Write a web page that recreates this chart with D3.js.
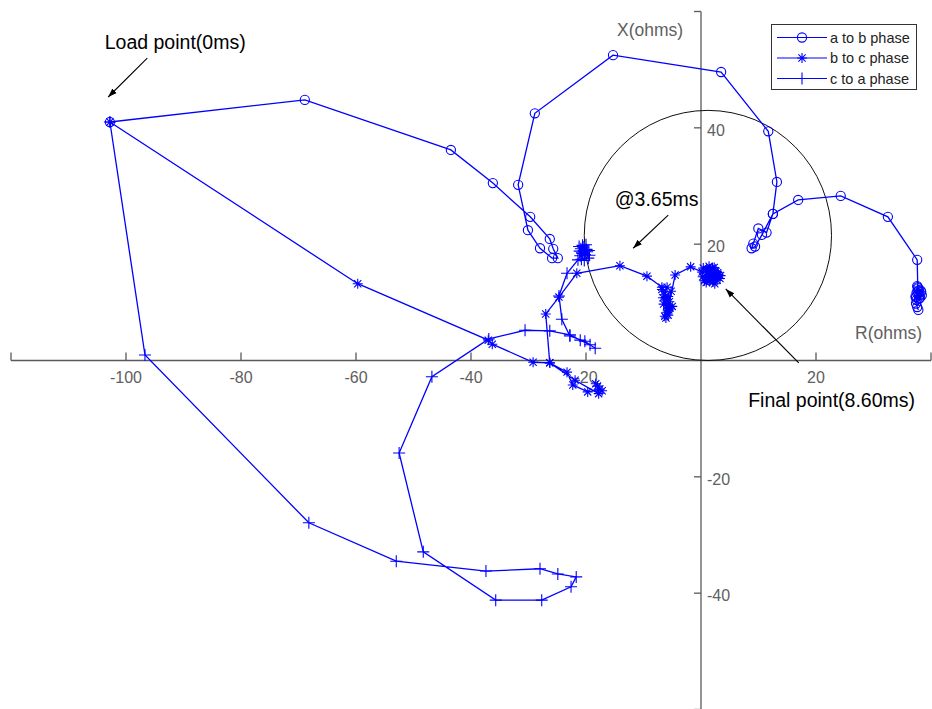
<!DOCTYPE html>
<html>
<head>
<meta charset="utf-8">
<script src="https://cdn.jsdelivr.net/npm/d3@7"></script>
<style>
  html, body { margin: 0; padding: 0; background: #fff; }
  svg { display: block; font-family: "Liberation Sans", Arial, sans-serif; }
</style>
</head>
<body>
<svg id="chart" width="932" height="709"></svg>
<script>
// Apparent impedance trajectories (R, X in ohms) seen by the distance relay
const seriesNames = ["a to b phase", "b to c phase", "c to a phase"];

const abR = [-102.8, -68.9, -43.5, -36.2, -29.7, -26.3, -25.7, -24.9, -25.9, -28.0, -30.1, -31.8, -28.9, -15.3, 3.5, 11.7, 13.2, 12.5, 11.4, 9.97, 9.1, 8.8, 9.4, 10.6, 12.5, 16.9, 24.3, 32.5, 37.6,
  37.7, 37.9, 37.5, 38.0, 37.7, 37.8, 38.3, 37.3, 38.1, 37.6, 38.4, 37.9, 37.4, 38.2, 37.8, 37.5, 37.4, 37.6, 37.8];
const abX = [41.0, 44.8, 36.2, 30.5, 24.7, 20.9, 19.2, 17.6, 17.6, 19.3, 22.4, 30.2, 42.5, 52.5, 49.6, 39.4, 30.7, 25.2, 22.0, 22.7, 20.1, 19.3, 19.6, 21.6, 25.2, 27.6, 28.3, 24.7, 17.3,
  12.6, 12.1, 11.7, 11.3, 11.9, 12.4, 11.8, 11.0, 10.8, 12.8, 11.2, 10.6, 10.9, 12.0, 11.5, 10.4, 9.8, 9.2, 8.7];

const bcR = [-102.8, -59.7, -37.0, -36.3, -29.2, -26.3, -23.3, -22.3, -19.7, -17.6, -18.3, -17.2, -18.0, -17.8, -21.9, -26.3, -27.0, -24.7, -21.6, -14.1, -9.4, -6.8, -5.9, -6.4, -6.1, -5.9, -5.6, -5.7, -6.1, -5.4, -6.6, -5.2, -6.0, -5.5, -6.8, -5.0, -6.3, -5.7, -6.5, -5.8, -4.5, -1.8,
  0.2, 1.0, 1.8, 2.5, 1.2, 2.0, 3.0, 1.5, 2.4, 0.8, 2.8, 1.9, 0.4, 1.4, 2.2, 3.3, 0.9, 1.7, 2.6, 0.3, 1.1, 2.9, 2.1, 1.6, 0.6, 3.4, 1.3, 2.3];
const bcX = [41.0, 13.2, 3.5, 2.8, -0.3, -0.4, -2.0, -4.2, -5.4, -4.9, -4.0, -5.2, -4.4, -5.7, -3.4, -0.4, 8.0, 10.9, 15.0, 16.3, 14.5, 12.6, 12.6, 11.3, 10.4, 9.5, 8.7, 7.8, 7.3, 9.0, 10.8, 11.9, 8.2, 10.1, 12.2, 9.3, 7.6, 11.0, 9.7, 8.5, 14.7, 16.1,
  15.2, 15.6, 15.0, 14.3, 14.0, 15.9, 14.8, 13.6, 13.2, 14.6, 13.8, 14.5, 15.9, 16.2, 15.5, 14.1, 13.4, 14.9, 15.3, 14.4, 13.9, 15.1, 13.5, 15.7, 13.7, 14.6, 14.2, 16.0];

const caR = [-102.8, -96.7, -68.2, -53.0, -37.4, -28.0, -24.9, -21.7, -22.6, -27.7, -35.7, -48.3, -52.5, -46.8, -36.9, -30.6, -26.3, -22.8, -21.0, -19.3, -18.4, -20.2, -22.8, -24.2, -24.7, -23.3, -21.4, -20.7,
  -20.4, -20.9, -20.2, -21.0, -20.5, -19.8, -20.6, -19.4, -21.2, -20.0, -19.6, -20.8, -20.3, -19.9, -21.1, -20.6, -19.5];
const caX = [41.0, 0.95, -27.9, -34.5, -36.2, -35.8, -36.7, -37.2, -38.9, -41.2, -41.2, -32.9, -15.9, -2.8, 3.7, 5.2, 5.1, 4.4, 3.5, 2.7, 2.1, 3.3, 4.2, 7.1, 11.1, 15.0, 17.3, 18.5,
  18.9, 19.2, 18.2, 18.0, 19.5, 18.7, 18.4, 18.1, 19.6, 19.9, 17.6, 17.4, 17.2, 19.1, 18.8, 19.8, 18.9];

// Mho characteristic: centre and radius in ohms
const mhoCentre = [1.2, 21.5];
const mhoRadius = 21.5;

const rTicks = [-120, -100, -80, -60, -40, -20, 20, 40];
const rTickLabels = [-100, -80, -60, -40, -20, 20];
const xTicks = [-60, -40, -20, 20, 40, 60];
const xTickLabels = [-40, -20, 20, 40];

const svg = d3.select("#chart");

const x = d3.scaleLinear().domain([-120, 40]).range([11, 931]);
const y = d3.scaleLinear().domain([-60, 60]).range([709.5, 11.5]);

const axisColor = "#5a5a5a";
const blue = "#0000ff";

// Axes crossing at the origin
const gx = svg.append("g").attr("transform", `translate(0,${y(0)})`);
gx.append("line").attr("x1", x(-120)).attr("x2", x(40)).attr("stroke", axisColor).attr("stroke-width", 1.3);
gx.selectAll("line.tick").data(rTicks).join("line").attr("class", "tick")
  .attr("x1", d => x(d)).attr("x2", d => x(d)).attr("y1", 0).attr("y2", -8)
  .attr("stroke", axisColor).attr("stroke-width", 1.3);
gx.selectAll("text").data(rTickLabels).join("text")
  .attr("x", d => x(d)).attr("y", 22).attr("text-anchor", "middle")
  .attr("font-size", 16).attr("fill", "#606060").text(d => d);

const gy = svg.append("g").attr("transform", `translate(${x(0)},0)`);
gy.append("line").attr("y1", y(60)).attr("y2", y(-60)).attr("stroke", axisColor).attr("stroke-width", 1.3);
gy.selectAll("line.tick").data(xTicks).join("line").attr("class", "tick")
  .attr("y1", d => y(d)).attr("y2", d => y(d)).attr("x1", 0).attr("x2", -7)
  .attr("stroke", axisColor).attr("stroke-width", 1.3);
gy.selectAll("text").data(xTickLabels).join("text")
  .attr("x", 6).attr("y", d => y(d) + 8).attr("text-anchor", "start")
  .attr("font-size", 16).attr("fill", "#606060").text(d => d);

svg.append("text").attr("x", 617).attr("y", 36).attr("font-size", 17.5).attr("fill", "#606060").text("X(ohms)");
svg.append("text").attr("x", 855).attr("y", 339).attr("font-size", 17.5).attr("fill", "#606060").text("R(ohms)");

// Mho circle
svg.append("ellipse")
  .attr("cx", x(mhoCentre[0])).attr("cy", y(mhoCentre[1]))
  .attr("rx", x(mhoRadius) - x(0)).attr("ry", y(0) - y(mhoRadius))
  .attr("fill", "none").attr("stroke", "#111").attr("stroke-width", 1);

// Marker shapes
function drawMarker(g, kind, px, py) {
  if (kind === "o") {
    g.append("circle").attr("cx", px).attr("cy", py).attr("r", 4.6)
      .attr("fill", "none").attr("stroke", blue).attr("stroke-width", 1.1);
  } else if (kind === "*") {
    const s = 5, d = 3.6;
    const p = `M${px - s},${py}L${px + s},${py}M${px},${py - s}L${px},${py + s}` +
              `M${px - d},${py - d}L${px + d},${py + d}M${px - d},${py + d}L${px + d},${py - d}`;
    g.append("path").attr("d", p).attr("stroke", blue).attr("stroke-width", 1.1).attr("fill", "none");
  } else {
    const s = 6;
    const p = `M${px - s},${py}L${px + s},${py}M${px},${py - s}L${px},${py + s}`;
    g.append("path").attr("d", p).attr("stroke", blue).attr("stroke-width", 1.1).attr("fill", "none");
  }
}

const line = d3.line().x(d => x(d[0])).y(d => y(d[1]));
const series = [
  { name: seriesNames[0], R: abR, X: abX, marker: "o" },
  { name: seriesNames[1], R: bcR, X: bcX, marker: "*" },
  { name: seriesNames[2], R: caR, X: caX, marker: "+" }
];

series.forEach(s => {
  const pts = s.R.map((r, i) => [r, s.X[i]]);
  const g = svg.append("g");
  g.append("path").attr("d", line(pts)).attr("fill", "none")
    .attr("stroke", blue).attr("stroke-width", 1.3);
  pts.forEach(p => drawMarker(g, s.marker, x(p[0]), y(p[1])));
});

// Legend
const lg = svg.append("g");
lg.append("rect").attr("x", 771.5).attr("y", 24.5).attr("width", 145).attr("height", 65)
  .attr("fill", "#fff").attr("stroke", "#333").attr("stroke-width", 1);
series.forEach((s, i) => {
  const cy = 37.5 + i * 20.5;
  lg.append("line").attr("x1", 777).attr("x2", 827).attr("y1", cy).attr("y2", cy)
    .attr("stroke", blue).attr("stroke-width", 1.2);
  drawMarker(lg, s.marker, 802, cy);
  lg.append("text").attr("x", 830).attr("y", cy + 5).attr("font-size", 14.5)
    .attr("fill", "#222").text(s.name);
});

// Annotations with arrows
const defs = svg.append("defs");
defs.append("marker").attr("id", "arrow").attr("viewBox", "0 0 10 10")
  .attr("refX", 10).attr("refY", 5).attr("markerWidth", 9).attr("markerHeight", 9)
  .attr("markerUnits", "userSpaceOnUse").attr("orient", "auto")
  .append("path").attr("d", "M0,1.5L10,5L0,8.5Z").attr("fill", "#000");

const notes = [
  { text: "Load point(0ms)", at: [-103.7, 53.6], from: [-96.3, 52.0], to: [-103.1, 45.3] },
  { text: "@3.65ms", at: [-15.0, 26.6], from: [-5.7, 25.0], to: [-11.8, 19.3] },
  { text: "Final point(8.60ms)", at: [8.2, -8.0], from: [17.0, -0.4], to: [4.3, 12.3] }
];
notes.forEach(n => {
  svg.append("text").attr("x", x(n.at[0])).attr("y", y(n.at[1]))
    .attr("font-size", 19.5).attr("fill", "#000").text(n.text);
  svg.append("line").attr("x1", x(n.from[0])).attr("y1", y(n.from[1]))
    .attr("x2", x(n.to[0])).attr("y2", y(n.to[1]))
    .attr("stroke", "#000").attr("stroke-width", 1.1).attr("marker-end", "url(#arrow)");
});
</script>
</body>
</html>
